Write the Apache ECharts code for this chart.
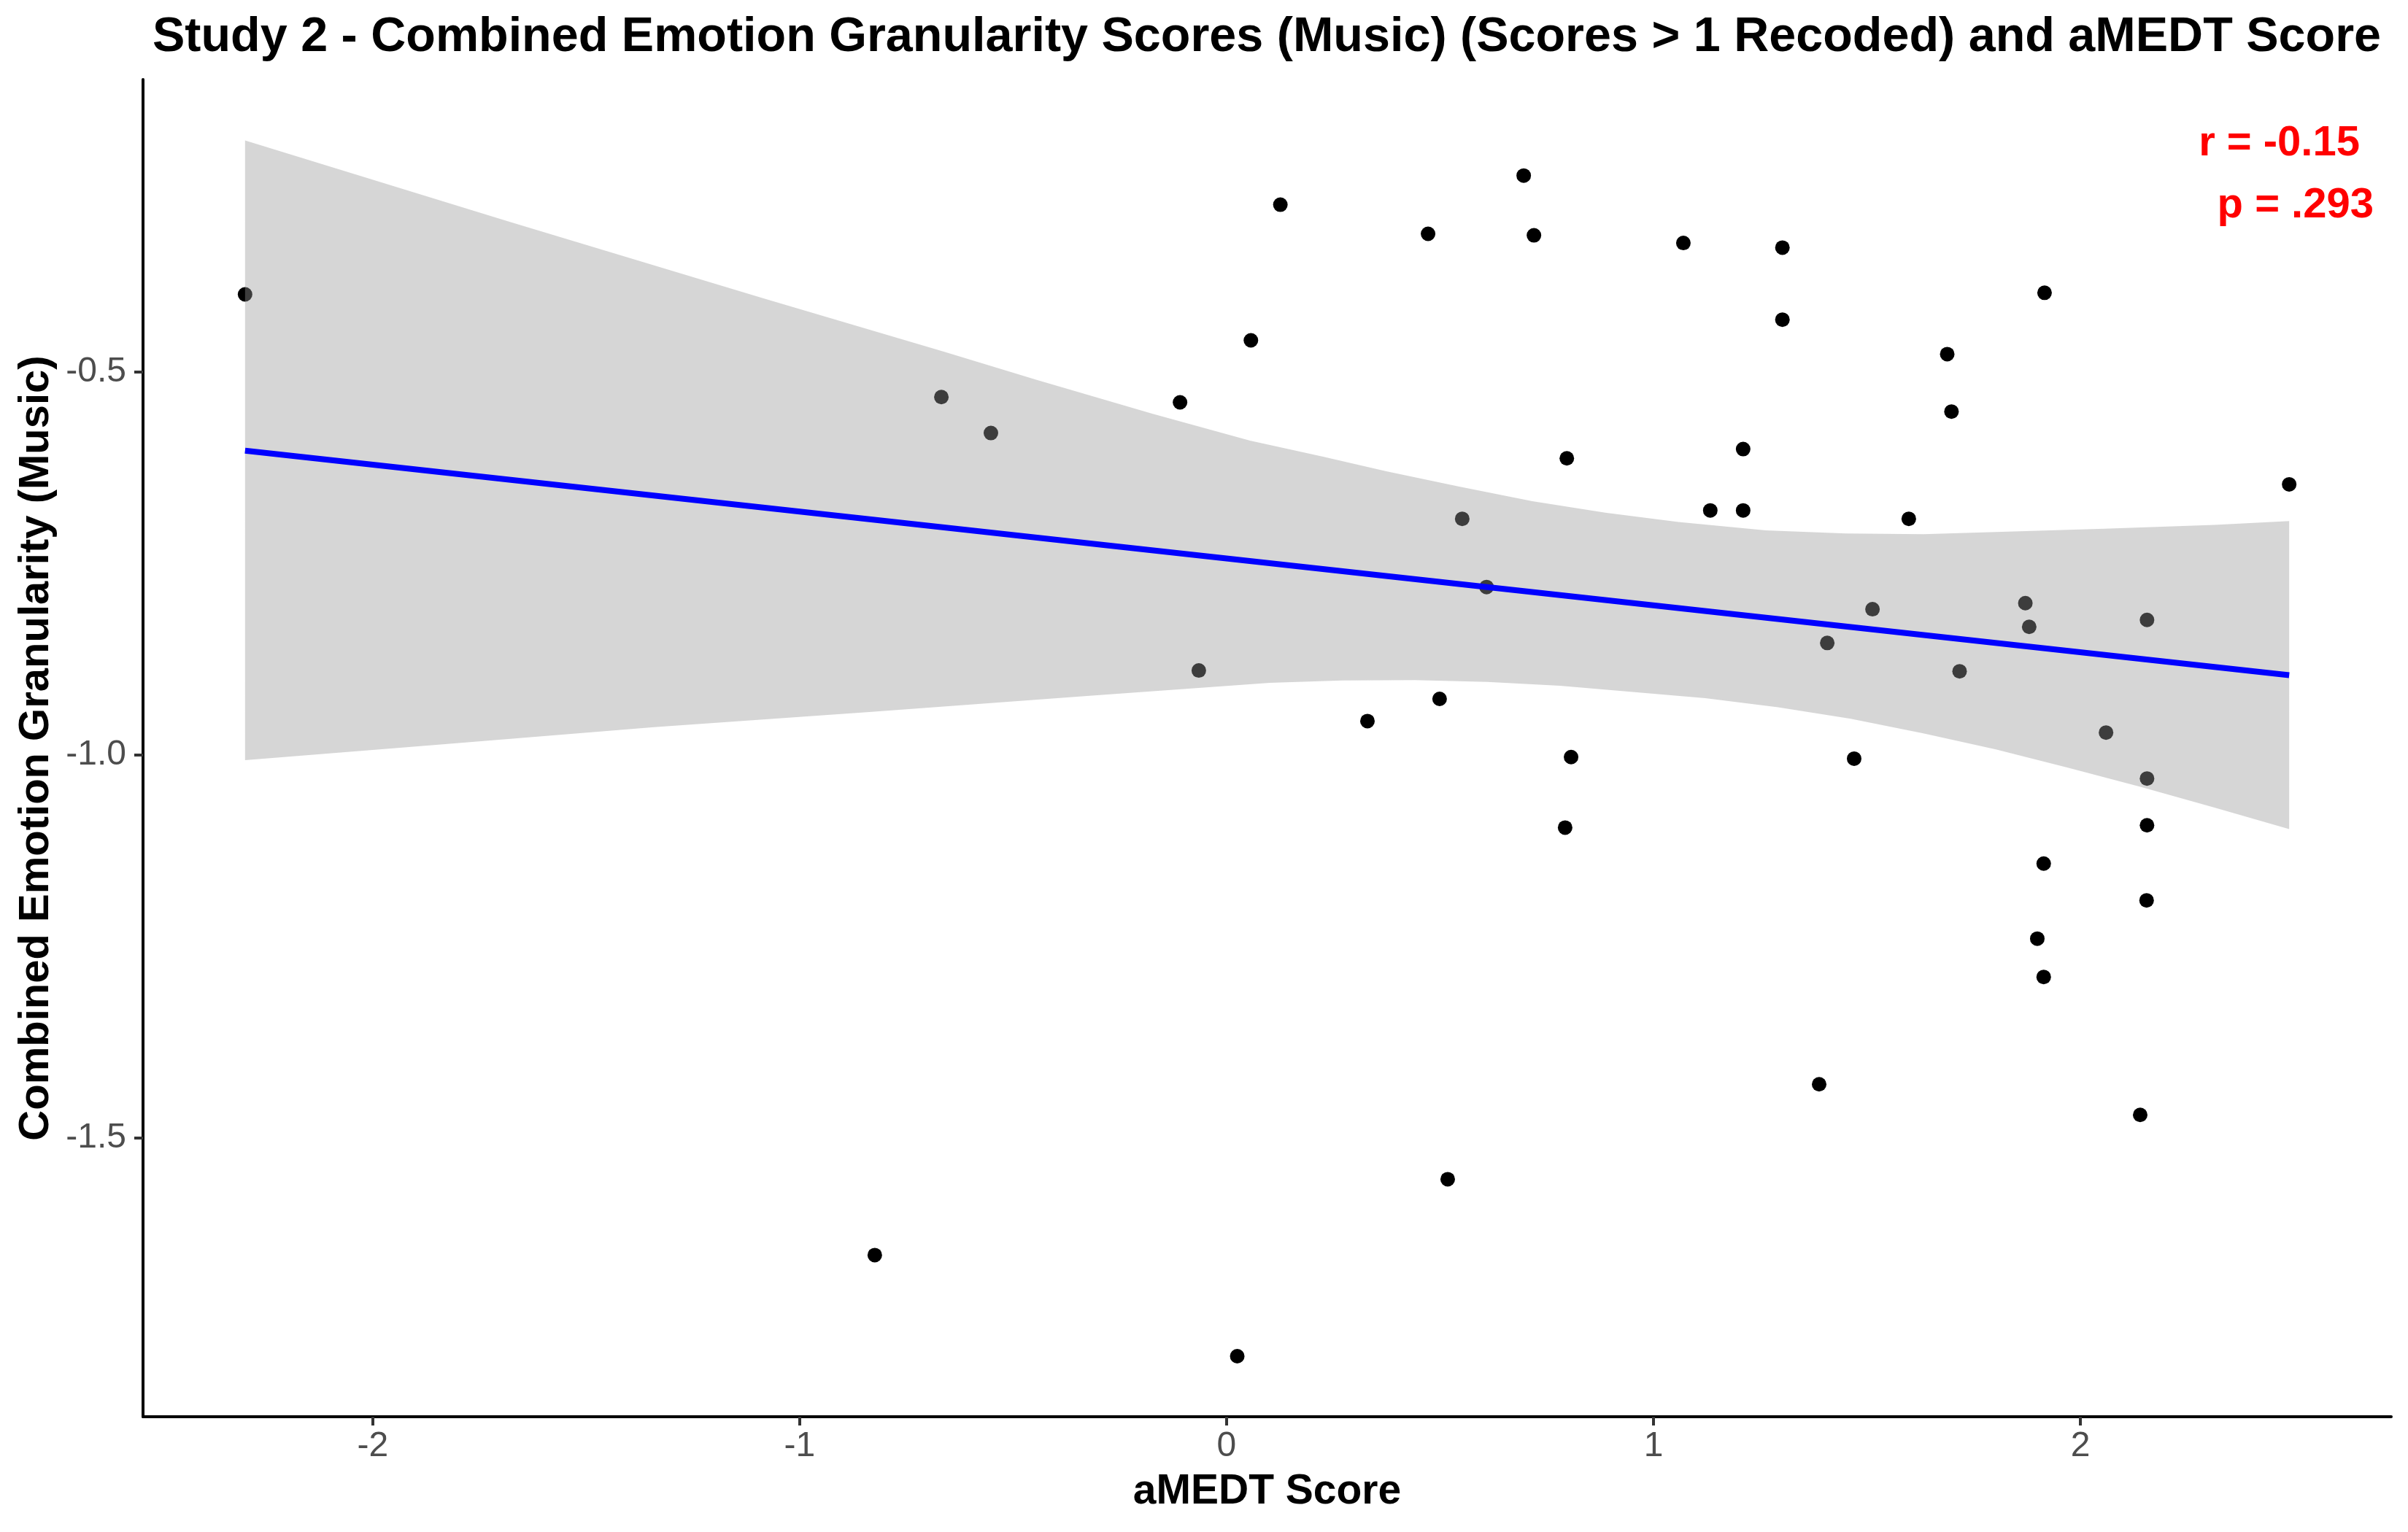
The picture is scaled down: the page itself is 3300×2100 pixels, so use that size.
<!DOCTYPE html>
<html>
<head>
<meta charset="utf-8">
<script src="https://cdn.jsdelivr.net/npm/echarts@6.0.0/dist/echarts.min.js"></script>
<style>
  html, body { margin: 0; padding: 0; background: #ffffff; }
  #chart { width: 3300px; height: 2100px; }
</style>
</head>
<body>
<div id="chart"></div>
<script>
// aMEDT score (x) and combined granularity (y) for each participant
const amedtScore = [
  -2.299, -0.668, -0.552, -0.109, 0.057, 0.126, -0.065, -0.824, 0.025, 0.472,
  0.696, 0.720, 0.552, 0.609, 0.330, 0.499, 0.518, 0.797, 0.807, 0.793,
  1.070, 1.133, 1.210, 1.210, 1.302, 1.302, 1.407, 1.513, 1.470, 1.388,
  1.598, 1.688, 1.698, 1.717, 1.871, 1.880, 1.916, 1.914, 1.899, 1.914,
  2.060, 2.156, 2.156, 2.156, 2.155, 2.140, 2.489
];
const granularity = [
  -0.399, -0.533, -0.580, -0.540, -0.459, -0.282, -0.890, -1.653, -1.785, -0.320,
  -0.244, -0.322, -0.692, -0.781, -0.956, -0.927, -1.554, -0.613, -1.003, -1.095,
  -0.332, -0.681, -0.681, -0.601, -0.338, -0.432, -0.854, -0.810, -1.005, -1.430,
  -0.692, -0.477, -0.552, -0.891, -0.802, -0.833, -0.397, -1.142, -1.240, -1.290,
  -0.971, -0.824, -1.031, -1.092, -1.190, -1.470, -0.647
];

// fitted line ends
const fitX = [-2.299, 2.489];
const fitY = [-0.603, -0.896];

// confidence band edges
const bandUpperX = [-2.299, -1.681, -1.086, -0.661, -0.446, -0.173, 0.055, 0.226, 0.374, 0.545, 0.716, 0.887, 1.058, 1.263, 1.45, 1.632, 2.056, 2.314, 2.489];
const bandUpperY = [-0.198, -0.304, -0.404, -0.474, -0.5105, -0.555, -0.590, -0.611, -0.630, -0.650, -0.669, -0.684, -0.696, -0.707, -0.711, -0.712, -0.705, -0.700, -0.695];
const bandLowerX = [-2.299, -1.851, -1.341, -0.831, -0.321, 0.101, 0.271, 0.441, 0.611, 0.781, 1.121, 1.292, 1.462, 1.632, 1.802, 1.972, 2.142, 2.314, 2.489];
const bandLowerY = [-1.007, -0.987, -0.964, -0.944, -0.923, -0.906, -0.903, -0.9025, -0.905, -0.910, -0.926, -0.938, -0.953, -0.972, -0.993, -1.017, -1.042, -1.069, -1.097];

// tick labels
const xTicks = [-2, -1, 0, 1, 2];
const yTicks = [-1.5, -1.0, -0.5];

const pts = amedtScore.map((x, i) => [x, granularity[i]]);
const fitLine = fitX.map((x, i) => [x, fitY[i]]);
const upper = bandUpperX.map((x, i) => [x, bandUpperY[i]]);
const lower = bandLowerX.map((x, i) => [x, bandLowerY[i]]);

const chart = echarts.init(document.getElementById('chart'), null, { renderer: 'canvas' });

const option = {
  backgroundColor: '#ffffff',
  animation: false,
  textStyle: { fontFamily: 'Liberation Sans' },
  grid: { left: 196, right: 23, top: 109, bottom: 158 },
  xAxis: {
    type: 'value',
    min: -2.538,
    max: 2.728,
    name: 'aMEDT Score',
    nameLocation: 'middle',
    nameGap: 75,
    nameTextStyle: { fontSize: 57, fontWeight: 'bold', color: '#000000', fontFamily: 'Liberation Sans' },
    axisLine: { show: true, onZero: false, lineStyle: { color: '#000000', width: 4 } },
    axisTick: { show: true, length: 12, customValues: xTicks, lineStyle: { color: '#333333', width: 4 } },
    axisLabel: {
      customValues: xTicks,
      fontSize: 48,
      color: '#4d4d4d',
      margin: 17,
      fontFamily: 'Liberation Sans',
      formatter: v => String(v)
    },
    splitLine: { show: false }
  },
  yAxis: {
    type: 'value',
    min: -1.864,
    max: -0.1186,
    name: 'Combined Emotion Granularity (Music)',
    nameLocation: 'middle',
    nameGap: 112,
    nameTextStyle: { fontSize: 58, fontWeight: 'bold', color: '#000000', fontFamily: 'Liberation Sans' },
    axisLine: { show: true, onZero: false, lineStyle: { color: '#000000', width: 4 } },
    axisTick: { show: true, length: 12, customValues: yTicks, lineStyle: { color: '#333333', width: 4 } },
    axisLabel: {
      customValues: yTicks,
      fontSize: 48,
      color: '#4d4d4d',
      margin: 23,
      fontFamily: 'Liberation Sans',
      formatter: v => v.toFixed(1)
    },
    splitLine: { show: false }
  },
  series: [
    {
      type: 'scatter',
      data: pts,
      symbol: 'circle',
      symbolSize: 20,
      itemStyle: { color: '#000000', opacity: 1 },
      z: 1
    },
    {
      // grey confidence band drawn over the points
      type: 'custom',
      data: [0],
      z: 2,
      silent: true,
      renderItem: function (params, api) {
        const poly = upper.concat(lower.slice().reverse()).map(p => api.coord(p));
        return {
          type: 'polygon',
          shape: { points: poly },
          style: { fill: 'rgba(153,153,153,0.4)' }
        };
      }
    },
    {
      type: 'line',
      data: fitLine,
      symbol: 'none',
      lineStyle: { color: '#0000ff', width: 8 },
      z: 3
    }
  ],
  graphic: [
    {
      type: 'text',
      x: 1736,
      y: 52,
      style: {
        text: 'Study 2 - Combined Emotion Granularity Scores (Music) (Scores > 1 Recoded) and aMEDT Score',
        font: 'bold 66.5px "Liberation Sans"',
        fill: '#000000',
        align: 'center',
        verticalAlign: 'middle'
      }
    },
    {
      type: 'text',
      x: 3234,
      y: 197,
      style: {
        text: 'r = -0.15',
        font: 'bold 58px "Liberation Sans"',
        fill: '#ff0000',
        align: 'right',
        verticalAlign: 'middle'
      }
    },
    {
      type: 'text',
      x: 3253,
      y: 282,
      style: {
        text: 'p = .293',
        font: 'bold 58px "Liberation Sans"',
        fill: '#ff0000',
        align: 'right',
        verticalAlign: 'middle'
      }
    }
  ]
};

chart.setOption(option);
</script>
</body>
</html>
